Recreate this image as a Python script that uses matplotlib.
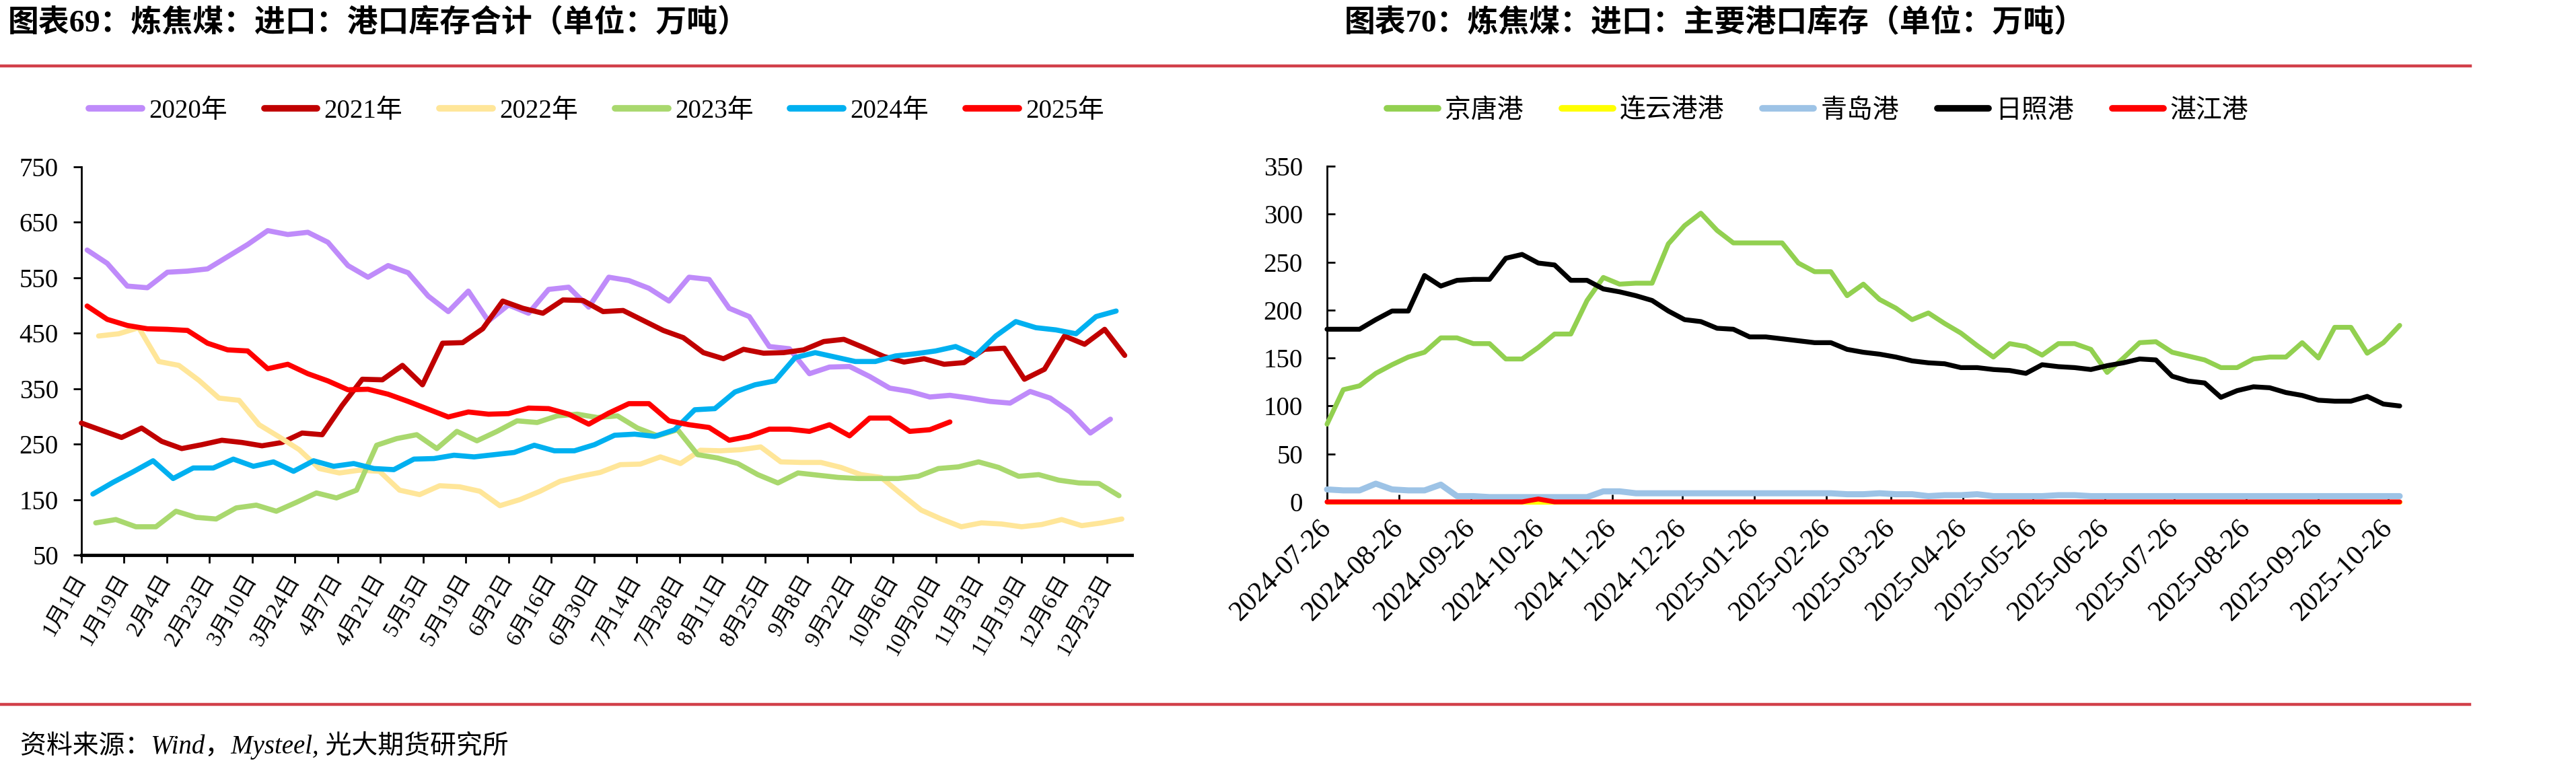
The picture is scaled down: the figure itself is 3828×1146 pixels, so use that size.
import pandas as pd
import numpy as np
import matplotlib
matplotlib.use('Agg')
import matplotlib.pyplot as plt
import matplotlib.dates as mdates
from matplotlib.lines import Line2D

plt.rcParams['font.family'] = ['Liberation Serif', 'Noto Sans CJK SC']

# ---------------- left chart: port stock total, weekly (Fridays) per year
years = [2020, 2021, 2022, 2023, 2024, 2025]
v2020 = [600, 576, 535, 532, 560, 562, 566, 588, 610, 635, 628, 632, 614, 572, 551, 572, 559, 517, 489, 526,
         472, 501, 486, 529, 533, 497, 551, 545, 531, 508, 551, 547, 495, 480, 426, 422, 377, 389, 390, 372,
         351, 345, 335, 338, 333, 327, 324, 345, 333, 308, 270, 295]
v2021 = [288, 275, 262, 279, 255, 242, 249, 257, 253, 247, 253, 270, 267, 320, 367, 366, 392, 357, 432, 433,
         458, 508, 495, 486, 510, 509, 489, 491, 473, 455, 442, 415, 404, 421, 414, 415, 420, 435, 439, 424,
         408, 398, 404, 394, 397, 421, 423, 367, 385, 445, 430, 457, 410]
v2022 = [445, 449, 460, 399, 392, 365, 333, 329, 285, 263, 240, 206, 198, 203, 201, 167, 159, 175, 173, 165,
         139, 150, 165, 183, 192, 199, 213, 214, 227, 215, 239, 238, 240, 245, 218, 217, 217, 208, 195, 190,
         160, 131, 115, 101, 108, 106, 101, 105, 114, 103, 108, 115]
v2023 = [108, 114, 101, 101, 129, 118, 115, 135, 140, 129, 145, 162, 153, 167, 248, 260, 267, 242, 273, 256,
         273, 292, 289, 301, 304, 298, 301, 279, 265, 276, 231, 225, 215, 195, 180, 198, 194, 190, 188, 188,
         188, 192, 206, 209, 218, 208, 192, 195, 185, 180, 179, 157]
v2024 = [160, 181, 200, 220, 188, 207, 207, 223, 210, 218, 201, 220, 210, 215, 206, 204, 223, 224, 230, 227,
         231, 235, 248, 238, 238, 249, 266, 268, 264, 276, 312, 314, 344, 357, 364, 406, 415, 407, 399, 399,
         409, 413, 418, 426, 410, 445, 471, 460, 456, 449, 480, 490]
v2025 = [499, 475, 464, 458, 457, 455, 432, 420, 418, 386, 394, 377, 364, 348, 349, 340, 327, 313, 299, 308,
         304, 305, 315, 314, 304, 286, 306, 323, 323, 292, 285, 280, 257, 264, 277, 277, 273, 285, 265, 297,
         297, 273, 276, 290]
year_values = [v2020, v2021, v2022, v2023, v2024, v2025]
year_colors = ['#BF8BFA', '#C00000', '#FFE699', '#A9D86E', '#00B0F0', '#FF0000']
left_ticklabels = ['1月1日', '1月19日', '2月4日', '2月23日', '3月10日', '3月24日', '4月7日', '4月21日',
                   '5月5日', '5月19日', '6月2日', '6月16日', '6月30日', '7月14日', '7月28日', '8月11日',
                   '8月25日', '9月8日', '9月22日', '10月6日', '10月20日', '11月3日', '11月19日', '12月6日',
                   '12月23日']

# ---------------- right chart: main ports, weekly from 2024-07-26
port_names = ['京唐港', '连云港港', '青岛港', '日照港', '湛江港']
jingtang = [81, 117, 121, 134, 143, 151, 156, 171, 171, 165, 165, 149, 149, 161, 175, 175, 210, 234, 227, 228,
            228, 269, 288, 301, 283, 270, 270, 270, 270, 249, 240, 240, 215, 227, 211, 202, 190, 197, 186, 176,
            163, 151, 165, 162, 153, 165, 165, 159, 135, 150, 166, 167, 156, 152, 148, 140, 140, 149, 151, 151,
            166, 150, 182, 182, 155, 166, 184]
lianyun = [0, 0, 0, 0, 0, 0, 0, 0, 0, 0, 0, 0, 0, 0, 0, 0, 0, 0, 0, 0,
           0, 0, 0, 0, 0, 0, 0, 0, 0, 0, 0, 0, 0, 0, 0, 0, 0, 0, 0, 0,
           0, 0, 0, 0, 0, 0, 0, 0, 0, 0, 0, 0, 0, 0, 0, 0, 0, 0, 0, 0,
           0, 0, 0, 0, 0, 0, 0]
qingdao = [13, 12, 12, 19, 13, 12, 12, 18, 6, 6, 5, 5, 5, 5, 5, 5, 5, 11, 11, 9,
           9, 9, 9, 9, 9, 9, 9, 9, 9, 9, 9, 9, 8, 8, 9, 8, 8, 6, 7, 7,
           8, 6, 6, 6, 6, 7, 7, 6, 6, 6, 6, 6, 6, 6, 6, 6, 6, 6, 6, 6,
           6, 6, 6, 6, 6, 6, 6]
rizhao = [180, 180, 180, 190, 199, 199, 236, 225, 231, 232, 232, 254, 258, 249, 247, 231, 231, 222, 219, 215,
          210, 199, 190, 188, 181, 180, 172, 172, 170, 168, 166, 166, 159, 156, 154, 151, 147, 145, 144, 140,
          140, 138, 137, 134, 143, 141, 140, 138, 142, 145, 149, 148, 131, 126, 124, 109, 116, 120, 119, 114,
          111, 106, 105, 105, 110, 102, 100]
zhanjiang = [0, 0, 0, 0, 0, 0, 0, 0, 0, 0, 0, 0, 0, 3, 0, 0, 0, 0, 0, 0,
             0, 0, 0, 0, 0, 0, 0, 0, 0, 0, 0, 0, 0, 0, 0, 0, 0, 0, 0, 0,
             0, 0, 0, 0, 0, 0, 0, 0, 0, 0, 0, 0, 0, 0, 0, 0, 0, 0, 0, 0,
             0, 0, 0, 0, 0, 0, 0]
port_values = [jingtang, lianyun, qingdao, rizhao, zhanjiang]
port_colors = ['#92D050', '#FFFF00', '#9DC3E6', '#000000', '#FF0000']
port_widths = [5.2, 5.2, 6.5, 5.2, 5.2]

W, H = 3828, 1146
fig = plt.figure(figsize=(W / 100, H / 100), dpi=100)


def fx(px):
    return px / W


def fy(py):
    return 1 - py / H


RED_RULE = '#D2404A'

# ---------------- left chart
ax1 = fig.add_axes([fx(121), fy(825), (1682 - 121) / W, (825 - 248) / H])
for year, vals, color in zip(years, year_values, year_colors):
    days = pd.date_range(f'{year}-01-01', f'{year}-12-31', freq='W-FRI')[:len(vals)].dayofyear
    ax1.plot(days, vals, color=color, lw=5.5, solid_joinstyle='round',
             solid_capstyle='round', zorder=3, clip_on=False)
ax1.set_xlim(1, 367.5)
ax1.set_ylim(50, 750)
ax1.set_yticks(np.arange(50, 751, 100))
ax1.set_xticks(np.linspace(1, 358.8, len(left_ticklabels)))
ax1.set_xticklabels(left_ticklabels)
for lab in ax1.get_xticklabels():
    lab.set_rotation(60)
    lab.set_ha('right')
    lab.set_va('center')
    lab.set_rotation_mode('anchor')
ax1.tick_params(axis='y', direction='out', length=8.5, width=2, labelsize=28, pad=16)
ax1.tick_params(axis='x', direction='out', length=8.5, width=2, labelsize=24, pad=14)
for s in ['top', 'right']:
    ax1.spines[s].set_visible(False)
ax1.spines['left'].set_linewidth(2)
ax1.spines['bottom'].set_linewidth(3.5)

h1 = [Line2D([], [], color=c, lw=7, solid_capstyle='round') for c in year_colors]
fig.legend(h1, [f'{y}年' for y in years], loc='center left', bbox_to_anchor=(fx(132), fy(165)),
           ncol=6, frameon=False, fontsize=28, handlelength=2.03, handletextpad=0.26,
           columnspacing=1.41, borderpad=0, borderaxespad=0)

# ---------------- right chart
dates_r = pd.date_range('2024-07-26', periods=len(jingtang), freq='7D').to_pydatetime()
ax2 = fig.add_axes([fx(1972), fy(746), (3566 - 1972) / W, (746 - 247) / H])
for vals, color, lw in zip(port_values, port_colors, port_widths):
    ax2.plot(dates_r, vals, color=color, lw=lw, solid_joinstyle='round',
             solid_capstyle='round', zorder=3, clip_on=False)
ax2.set_xlim(dates_r[0], dates_r[-1])
ax2.set_ylim(0, 350)
ax2.set_yticks(np.arange(0, 351, 50))
ax2.set_xticks(pd.date_range('2024-07-26', '2025-10-26', freq=pd.DateOffset(months=1)).to_pydatetime())
ax2.xaxis.set_major_formatter(mdates.DateFormatter('%Y-%m-%d'))
for lab in ax2.get_xticklabels():
    lab.set_rotation(45)
    lab.set_ha('right')
    lab.set_va('center')
    lab.set_rotation_mode('anchor')
ax2.tick_params(axis='y', direction='in', length=8.5, width=2, labelsize=28, pad=26)
ax2.tick_params(axis='x', direction='in', length=8, width=2, labelsize=30, pad=24)
for s in ['top', 'right']:
    ax2.spines[s].set_visible(False)
ax2.spines['left'].set_linewidth(2)
ax2.spines['bottom'].set_linewidth(2)

h2 = [Line2D([], [], color=c, lw=7, solid_capstyle='round') for c in port_colors]
fig.legend(h2, port_names, loc='center left', bbox_to_anchor=(fx(2061), fy(165)),
           ncol=5, frameon=False, fontsize=28, handlelength=1.95, handletextpad=0.26,
           columnspacing=1.47, borderpad=0, borderaxespad=0)

# ---------------- titles, rules, source
fig.text(fx(12), fy(35), '图表69：炼焦煤：进口：港口库存合计（单位：万吨）', fontsize=33,
         fontweight='bold', va='center', ha='left')
fig.text(fx(1998), fy(35), '图表70：炼焦煤：进口：主要港口库存（单位：万吨）', fontsize=33,
         fontweight='bold', va='center', ha='left')
fig.add_artist(Line2D([0, fx(3671)], [fy(98), fy(98)], color=RED_RULE, lw=3.2))
fig.add_artist(Line2D([0, fx(3670)], [fy(1047), fy(1047)], color=RED_RULE, lw=3.2))
fig.text(fx(30), fy(1108), '资料来源：Wind，Mysteel, 光大期货研究所', fontsize=28,
         style='italic', va='center', ha='left')

fig.savefig('out.png', dpi=100)
